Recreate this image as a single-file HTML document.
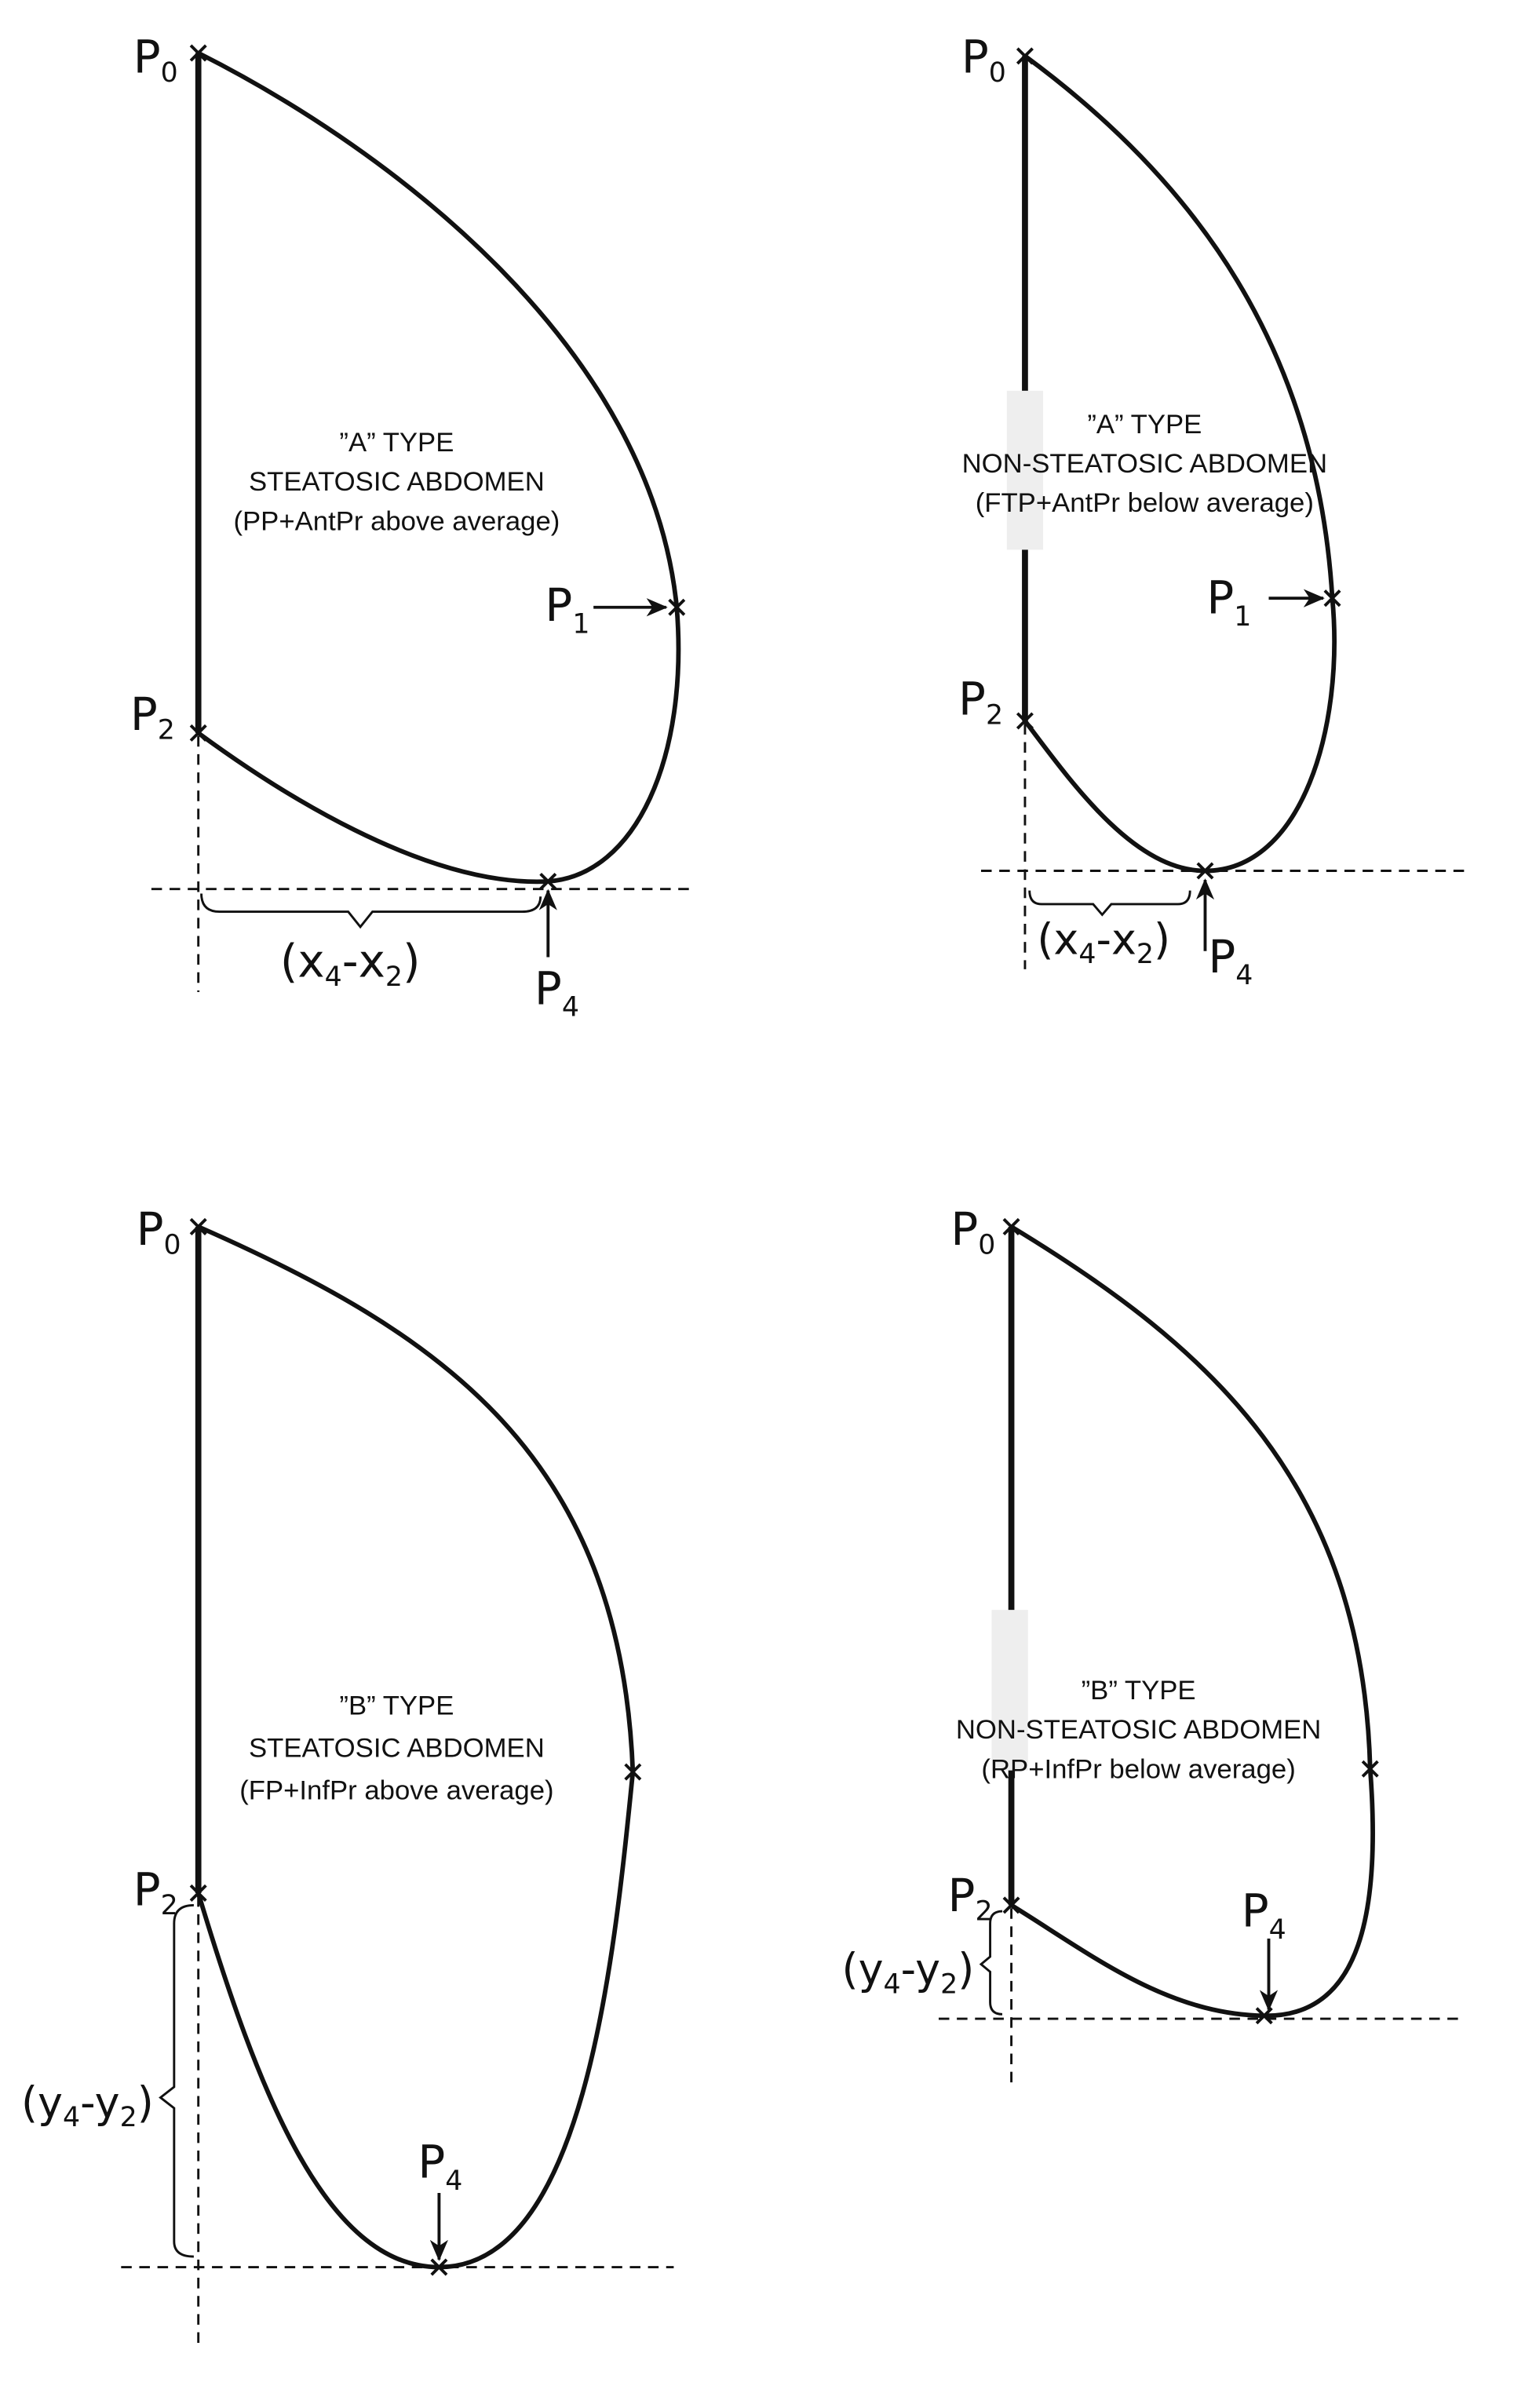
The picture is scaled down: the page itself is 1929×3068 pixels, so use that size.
<!DOCTYPE html>
<html><head><meta charset="utf-8"><style>
html,body{margin:0;padding:0;background:#fff;}
svg{display:block;}
text{font-family:"DejaVu Sans","Liberation Sans",sans-serif;fill:#111;}
.t{font-size:18px;text-anchor:middle;font-family:"Liberation Sans","DejaVu Sans",sans-serif;}
.P{font-size:30px;}
.s{font-size:18px;}
</style></head><body>
<svg width="1929" height="3068" viewBox="0 0 1000 1590" preserveAspectRatio="none" xmlns="http://www.w3.org/2000/svg">
<defs>
<marker id="ah2" markerWidth="14" markerHeight="12" refX="13" refY="6" orient="auto" markerUnits="userSpaceOnUse"><path d="M0,0 L14,6 L0,12 L4,6 Z" fill="#111"/></marker></defs>
<g fill="none" stroke="#111" stroke-width="3">
<path d="M131,35 C260,100 430,230 447,401 C455,500 420,578 362,582 C280,586 180,520 131,484"/>
<line x1="131" y1="35" x2="131" y2="484" stroke-width="4"/>
<path d="M677,37 C790,120 870,230 880,395 C888,480 860,575 796,575 C750,575 710,520 677,476"/>
<line x1="677" y1="37" x2="677" y2="476" stroke-width="4"/>
<path d="M131,810 C290,880 410,960 418,1170 C405,1300 385,1497 290,1497 C215,1497 170,1380 131,1250"/>
<line x1="131" y1="810" x2="131" y2="1250" stroke-width="4"/>
<path d="M668,810 C800,890 900,980 905,1168 C912,1260 900,1332 835,1331 C770,1330 720,1290 668,1258"/>
<line x1="668" y1="810" x2="668" y2="1258" stroke-width="4"/>
</g>
<rect x="665" y="258" width="24" height="105" fill="#eeeeee"/>
<rect x="655" y="1063" width="24" height="106" fill="#eeeeee"/>
<g stroke="#111" stroke-width="1.5" stroke-dasharray="7,5" fill="none">
<line x1="100" y1="587" x2="460" y2="587"/><line x1="131" y1="486" x2="131" y2="655"/>
<line x1="648" y1="575" x2="968" y2="575"/><line x1="677" y1="478" x2="677" y2="640"/>
<line x1="80" y1="1497" x2="445" y2="1497"/><line x1="131" y1="1252" x2="131" y2="1550"/>
<line x1="620" y1="1333" x2="965" y2="1333"/><line x1="668" y1="1260" x2="668" y2="1380"/>
</g>
<g stroke="#111" stroke-width="1.5" fill="none">
<path d="M133,590 Q133,602 145,602 L230,602 L238,612 L246,602 L345,602 Q357,602 357,592"/>
<path d="M680,588 Q680,597 688,597 L722,597 L728,604 L734,597 L778,597 Q786,597 786,588"/>
<path d="M128,1258 Q115,1258 115,1270 L115,1378 L106,1385 L115,1392 L115,1480 Q115,1490 128,1490"/>
<path d="M662,1262 Q654,1262 654,1270 L654,1292 L648,1297 L654,1302 L654,1322 Q654,1330 662,1330"/>
</g>
<g stroke="#111" stroke-width="2" fill="none">
<line x1="392" y1="401" x2="440" y2="401" marker-end="url(#ah2)"/>
<line x1="362" y1="632" x2="362" y2="588" marker-end="url(#ah2)"/>
<line x1="838" y1="395" x2="874" y2="395" marker-end="url(#ah2)"/>
<line x1="796" y1="628" x2="796" y2="581" marker-end="url(#ah2)"/>
<line x1="290" y1="1448" x2="290" y2="1492" marker-end="url(#ah2)"/>
<line x1="838" y1="1280" x2="838" y2="1327" marker-end="url(#ah2)"/>
</g>
<g stroke="#111" stroke-width="2">
<path d="M126,30 l10,10 M136,30 l-10,10"/><path d="M126,479 l10,10 M136,479 l-10,10"/>
<path d="M442,396 l10,10 M452,396 l-10,10"/><path d="M357,577 l10,10 M367,577 l-10,10"/>
<path d="M672,32 l10,10 M682,32 l-10,10"/><path d="M672,471 l10,10 M682,471 l-10,10"/>
<path d="M875,390 l10,10 M885,390 l-10,10"/><path d="M791,570 l10,10 M801,570 l-10,10"/>
<path d="M126,805 l10,10 M136,805 l-10,10"/><path d="M126,1245 l10,10 M136,1245 l-10,10"/>
<path d="M413,1165 l10,10 M423,1165 l-10,10"/><path d="M285,1492 l10,10 M295,1492 l-10,10"/>
<path d="M663,805 l10,10 M673,805 l-10,10"/><path d="M663,1253 l10,10 M673,1253 l-10,10"/>
<path d="M900,1163 l10,10 M910,1163 l-10,10"/><path d="M830,1326 l10,10 M840,1326 l-10,10"/>
</g>
<text class="P" x="88" y="48">P<tspan class="s" dy="6">0</tspan></text>
<text class="P" x="86" y="482">P<tspan class="s" dy="6">2</tspan></text>
<text class="P" x="360" y="410">P<tspan class="s" dy="8">1</tspan></text>
<text class="P" x="353" y="663">P<tspan class="s" dy="8">4</tspan></text>
<text class="P" x="185" y="645">(x<tspan class="s" dy="6">4</tspan><tspan dy="-6">-x</tspan><tspan class="s" dy="6">2</tspan><tspan dy="-6">)</tspan></text>
<text class="t" x="262" y="298">”A” TYPE</text>
<text class="t" x="262" y="324">STEATOSIC ABDOMEN</text>
<text class="t" x="262" y="350">(PP+AntPr above average)</text>

<text class="P" x="635" y="48">P<tspan class="s" dy="6">0</tspan></text>
<text class="P" x="633" y="472">P<tspan class="s" dy="6">2</tspan></text>
<text class="P" x="797" y="405">P<tspan class="s" dy="8">1</tspan></text>
<text class="P" x="798" y="642">P<tspan class="s" dy="8">4</tspan></text>
<text class="P" x="685" y="630" style="font-size:28px">(x<tspan class="s" dy="6">4</tspan><tspan dy="-6">-x</tspan><tspan class="s" dy="6">2</tspan><tspan dy="-6">)</tspan></text>
<text class="t" x="756" y="286">”A” TYPE</text>
<text class="t" x="756" y="312">NON-STEATOSIC ABDOMEN</text>
<text class="t" x="756" y="338">(FTP+AntPr below average)</text>

<text class="P" x="90" y="822">P<tspan class="s" dy="6">0</tspan></text>
<text class="P" x="88" y="1258">P<tspan class="s" dy="6">2</tspan></text>
<text class="P" x="276" y="1438">P<tspan class="s" dy="8">4</tspan></text>
<text class="P" x="14" y="1398" style="font-size:28px">(y<tspan class="s" dy="6">4</tspan><tspan dy="-6">-y</tspan><tspan class="s" dy="6">2</tspan><tspan dy="-6">)</tspan></text>
<text class="t" x="262" y="1132">”B” TYPE</text>
<text class="t" x="262" y="1160">STEATOSIC ABDOMEN</text>
<text class="t" x="262" y="1188">(FP+InfPr above average)</text>

<text class="P" x="628" y="822">P<tspan class="s" dy="6">0</tspan></text>
<text class="P" x="626" y="1262">P<tspan class="s" dy="6">2</tspan></text>
<text class="P" x="820" y="1272">P<tspan class="s" dy="8">4</tspan></text>
<text class="P" x="556" y="1310" style="font-size:28px">(y<tspan class="s" dy="6">4</tspan><tspan dy="-6">-y</tspan><tspan class="s" dy="6">2</tspan><tspan dy="-6">)</tspan></text>
<text class="t" x="752" y="1122">”B” TYPE</text>
<text class="t" x="752" y="1148">NON-STEATOSIC ABDOMEN</text>
<text class="t" x="752" y="1174">(RP+InfPr below average)</text>
</svg>
</body></html>
